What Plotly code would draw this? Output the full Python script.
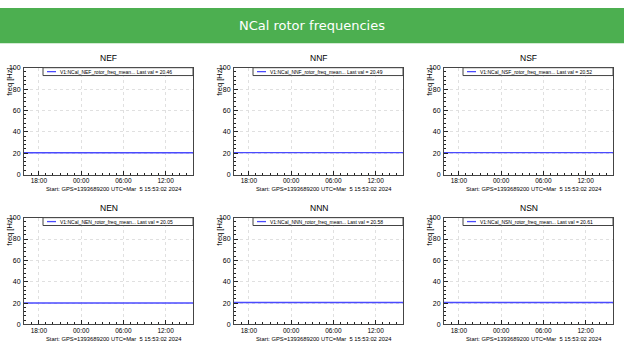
import plotly.graph_objects as go

W, H = 624, 352

# ---- data ----
times = ["2024-03-05 15:53:02", "2024-03-05 21:53:02", "2024-03-06 03:53:02",
         "2024-03-06 09:53:02", "2024-03-06 15:53:02"]
nef = [20.46, 20.46, 20.46, 20.46, 20.46]
nnf = [20.49, 20.49, 20.49, 20.49, 20.49]
nsf = [20.52, 20.52, 20.52, 20.52, 20.52]
nen = [20.05, 20.05, 20.05, 20.05, 20.05]
nnn = [20.58, 20.58, 20.58, 20.58, 20.58]
nsn = [20.61, 20.61, 20.61, 20.61, 20.61]
names = ["NEF", "NNF", "NSF", "NEN", "NNN", "NSN"]
series = [nef, nnf, nsf, nen, nnn, nsn]
x_range = ["2024-03-05 15:53:02", "2024-03-06 15:53:02"]
start_label = "Start: GPS=1393689200 UTC=Mar  5 15:53:02 2024"
main_title = "NCal rotor frequencies"

# ---- layout helpers ----
def px(x):
    return x / W

def py(y):
    return 1 - y / H

col_left = [24, 234, 444]
plot_w = 169
row_top = [65, 218]
plot_h = 109
FONT = "Liberation Sans, Arial, Helvetica, sans-serif"
LINE_BLUE = "#4a4aff"

fig = go.Figure()
shapes = []
annotations = []
layout = {}

# header
shapes.append(dict(type="rect", xref="paper", yref="paper", x0=0, x1=1,
                   y0=py(40), y1=py(4), fillcolor="#4caf50", line_width=0, layer="below"))
annotations.append(dict(xref="paper", yref="paper", x=0.5, y=py(22), text=main_title,
                        showarrow=False, xanchor="center", yanchor="middle",
                        font=dict(family="DejaVu Sans, sans-serif", size=13, color="white")))

for i, (name, vals) in enumerate(zip(names, series)):
    r, c = divmod(i, 3)
    L = col_left[c]
    R = L + plot_w
    T = row_top[r]
    B = T + plot_h
    k = "" if i == 0 else str(i + 1)
    fig.add_trace(go.Scatter(x=times, y=vals, mode="lines", xaxis="x" + k, yaxis="y" + k,
                             line=dict(color=LINE_BLUE, width=1.4), showlegend=False,
                             hoverinfo="skip"))
    layout["xaxis" + k] = dict(
        domain=[px(L), px(R)], anchor="y" + k, type="date", range=x_range,
        tick0="2024-03-05 18:00:00", dtick=6 * 3600000, tickformat="%H:%M",
        ticks="inside", ticklen=4, tickcolor="#222", tickwidth=1,
        showline=True, mirror=True, linecolor="#444", linewidth=1,
        showgrid=True, gridcolor="#e0e0e0", griddash="dot", gridwidth=1,
        zeroline=False,
        minor=dict(ticks="inside", ticklen=2, dtick=3600000, tickcolor="#222", showgrid=False),
        tickfont=dict(family=FONT, size=6.5, color="black"),
        ticklabelstandoff=0,
    )
    layout["yaxis" + k] = dict(
        domain=[py(B), py(T)], anchor="x" + k, range=[0, 100],
        tick0=0, dtick=20, ticks="inside", ticklen=4, tickcolor="#222",
        showline=True, mirror=True, linecolor="#444", linewidth=1,
        showgrid=True, gridcolor="#e0e0e0", griddash="dot", gridwidth=1,
        zeroline=False,
        minor=dict(ticks="inside", ticklen=2, dtick=4, tickcolor="#222", showgrid=False),
        tickfont=dict(family=FONT, size=7, color="black"),
        ticklabelstandoff=1,
    )
    # subplot title
    annotations.append(dict(xref="paper", yref="paper", x=px((L + R) / 2), y=py(T - 10),
                            text=name, showarrow=False, xanchor="center", yanchor="middle",
                            font=dict(family=FONT, size=8.5, color="black")))
    # y title
    annotations.append(dict(xref="paper", yref="paper", x=px(L - 14), y=py(T - 2),
                            text="freq [Hz]", showarrow=False, textangle=-90,
                            xanchor="center", yanchor="top",
                            font=dict(family=FONT, size=7.5, color="black")))
    # x title
    annotations.append(dict(xref="paper", yref="paper", x=px((L + R) / 2 + 5), y=py(B + 14.5),
                            text=start_label, showarrow=False, xanchor="center", yanchor="middle",
                            font=dict(family=FONT, size=5.8, color="black")))
    # legend box
    lx0, lx1, ly0, ly1 = L + 19, R, T, T + 8
    shapes.append(dict(type="rect", xref="paper", yref="paper", x0=px(lx0), x1=px(lx1),
                       y0=py(ly1), y1=py(ly0), fillcolor="white",
                       line=dict(color="#444", width=1)))
    shapes.append(dict(type="line", xref="paper", yref="paper", x0=px(lx0 + 4), x1=px(lx0 + 13),
                       y0=py((ly0 + ly1) / 2), y1=py((ly0 + ly1) / 2),
                       line=dict(color=LINE_BLUE, width=1.3)))
    annotations.append(dict(xref="paper", yref="paper", x=px(lx0 + 15), y=py((ly0 + ly1) / 2),
                            text=f"V1:NCal_{name}_rotor_freq_mean... Last val = {vals[-1]:.2f}",
                            showarrow=False, xanchor="left", yanchor="middle",
                            font=dict(family=FONT, size=5, color="black")))

fig.update_layout(width=W, height=H, margin=dict(l=0, r=0, t=0, b=0),
                  paper_bgcolor="white", plot_bgcolor="white",
                  shapes=shapes, annotations=annotations, **layout)

fig.write_html(
    "out.html",
    config={"displayModeBar": False, "staticPlot": True},
    post_script="document.body.style.margin='0';document.body.style.overflow='hidden';"
                "document.documentElement.style.overflow='hidden';",
)
